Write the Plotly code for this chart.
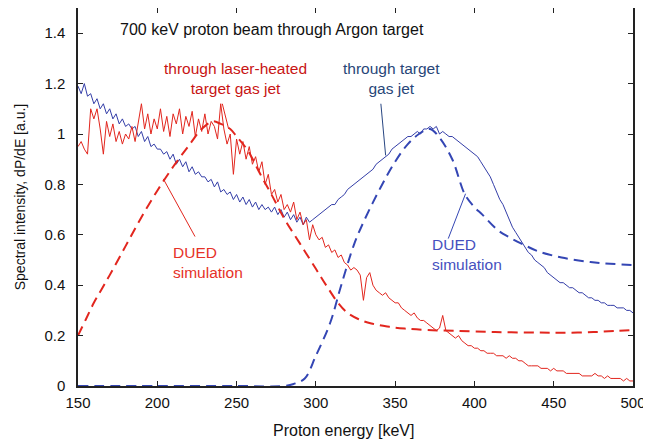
import plotly.graph_objects as go

# ---- data ----
energy_exp = list(range(150, 501, 2))

blue_exp = [
    1.19, 1.16, 1.20, 1.15, 1.16, 1.12, 1.14, 1.10, 1.12, 1.08, 1.10, 1.06, 1.08, 1.04, 1.06, 1.03,
    1.04, 1.02, 1.03, 0.99, 1.01, 0.97, 0.99, 0.95, 0.96, 0.94, 0.94, 0.92, 0.93, 0.90, 0.92, 0.88,
    0.90, 0.87, 0.89, 0.85, 0.87, 0.84, 0.85, 0.83, 0.83, 0.81, 0.82, 0.79, 0.81, 0.77, 0.78, 0.76,
    0.77, 0.74, 0.76, 0.73, 0.75, 0.72, 0.74, 0.71, 0.73, 0.70, 0.72, 0.70, 0.71, 0.69, 0.71, 0.68,
    0.70, 0.67, 0.69, 0.66, 0.68, 0.65, 0.67, 0.64, 0.67, 0.65, 0.66, 0.67, 0.68, 0.69, 0.70, 0.71,
    0.72, 0.72, 0.74, 0.75, 0.76, 0.78, 0.79, 0.80, 0.81, 0.82, 0.83, 0.84, 0.85, 0.86, 0.88, 0.89,
    0.90, 0.91, 0.92, 0.94, 0.95, 0.96, 0.97, 0.98, 0.99, 0.99, 1.00, 1.01, 1.00, 1.02, 1.02, 1.03,
    1.02, 1.03, 1.00, 1.01, 1.00, 0.99, 0.99, 0.98, 0.97, 0.96, 0.95, 0.94, 0.93, 0.92, 0.91, 0.89,
    0.87, 0.85, 0.83, 0.80, 0.77, 0.74, 0.72, 0.69, 0.66, 0.63, 0.61, 0.59, 0.57, 0.55, 0.53, 0.52,
    0.50, 0.49, 0.48, 0.47, 0.45, 0.44, 0.43, 0.42, 0.41, 0.41, 0.40, 0.39, 0.39, 0.38, 0.37, 0.37,
    0.36, 0.35, 0.35, 0.34, 0.34, 0.33, 0.33, 0.32, 0.32, 0.32, 0.31, 0.31, 0.31, 0.30, 0.30, 0.29,
]

red_exp = [
    0.95, 0.97, 0.94, 0.92, 1.10, 1.06, 1.10, 1.02, 0.92, 1.05, 0.99, 1.04, 0.97, 1.01, 0.96, 1.00,
    0.98, 1.03, 0.97, 1.04, 1.12, 1.02, 1.08, 1.00, 1.06, 1.02, 1.10, 1.01, 1.07, 0.99, 1.08, 1.04,
    1.10, 1.00, 1.07, 1.03, 1.09, 0.99, 1.06, 1.01, 1.08, 1.00, 1.05, 1.03, 0.98, 1.12, 1.02, 0.96,
    1.00, 0.84, 0.98, 0.92, 0.97, 0.90, 0.95, 0.88, 0.91, 0.85, 0.89, 0.80, 0.84, 0.76, 0.78, 0.73,
    0.76, 0.70, 0.72, 0.69, 0.73, 0.66, 0.69, 0.64, 0.66, 0.58, 0.64, 0.60, 0.58, 0.59, 0.55, 0.56,
    0.53, 0.54, 0.51, 0.52, 0.49, 0.48, 0.46, 0.47, 0.46, 0.44, 0.34, 0.43, 0.45, 0.40, 0.38, 0.37,
    0.36, 0.37, 0.35, 0.34, 0.33, 0.33, 0.31, 0.30, 0.29, 0.28, 0.29, 0.27, 0.26, 0.26, 0.25, 0.24,
    0.23, 0.22, 0.23, 0.28, 0.22, 0.21, 0.20, 0.19, 0.20, 0.18, 0.17, 0.16, 0.16, 0.15, 0.15, 0.14,
    0.14, 0.13, 0.13, 0.13, 0.12, 0.12, 0.12, 0.11, 0.12, 0.11, 0.11, 0.10, 0.10, 0.09, 0.08, 0.08,
    0.08, 0.08, 0.07, 0.07, 0.07, 0.06, 0.07, 0.06, 0.06, 0.06, 0.05, 0.05, 0.05, 0.05, 0.05, 0.04,
    0.04, 0.04, 0.04, 0.05, 0.04, 0.04, 0.03, 0.04, 0.03, 0.03, 0.03, 0.03, 0.02, 0.03, 0.02, 0.02,
]

red_sim_e = [150, 155, 160, 165, 170, 180, 190, 200, 210, 220, 228, 235, 240, 246, 250, 257, 265,
             272, 280, 290, 300, 307, 314, 320, 327, 335, 345, 356, 370, 388, 413, 440, 455, 475,
             490, 500]
red_sim_v = [0.20, 0.265, 0.33, 0.385, 0.44, 0.555, 0.67, 0.775, 0.87, 0.955, 1.02, 1.05, 1.04,
             1.02, 0.99, 0.935, 0.84, 0.76, 0.665, 0.565, 0.465, 0.395, 0.33, 0.29, 0.265, 0.248,
             0.236, 0.228, 0.222, 0.219, 0.214, 0.212, 0.211, 0.214, 0.219, 0.222]

blue_sim_e = [150, 200, 250, 280, 286, 293, 300, 309, 316, 324, 330, 341, 350, 358, 365, 372,
              378, 386, 394, 400, 405, 415, 422, 430, 440, 455, 476, 500]
blue_sim_v = [0.0, 0.0, 0.0, 0.0, 0.008, 0.03, 0.12, 0.25, 0.40, 0.56, 0.65, 0.79, 0.89, 0.96,
              1.0, 1.02, 0.985, 0.90, 0.76, 0.71, 0.68, 0.617, 0.59, 0.564, 0.535, 0.51, 0.49, 0.48]

x_ticks = [150, 200, 250, 300, 350, 400, 450, 500]
y_ticks = [0, 0.2, 0.4, 0.6, 0.8, 1.0, 1.2, 1.4]
y_tick_text = ["0", "0.2", "0.4", "0.6", "0.8", "1", "1.2", "1.4"]

RED = "rgb(226,38,30)"
BLUE = "rgb(52,62,168)"
BLUE_SIM = "rgb(52,70,180)"
FONT = "Liberation Sans, Arial, Helvetica, sans-serif"
NARROW = "Liberation Sans Narrow, Arial Narrow, Liberation Sans, sans-serif"

fig = go.Figure()
fig.add_trace(go.Scatter(x=energy_exp, y=blue_exp, mode="lines",
                         line=dict(color=BLUE, width=1), showlegend=False))
fig.add_trace(go.Scatter(x=energy_exp, y=red_exp, mode="lines",
                         line=dict(color=RED, width=1), showlegend=False))
fig.add_trace(go.Scatter(x=red_sim_e, y=red_sim_v, mode="lines", line_shape="spline",
                         line=dict(color=RED, width=2, dash="10px,6px"), showlegend=False))
fig.add_trace(go.Scatter(x=blue_sim_e, y=blue_sim_v, mode="lines", line_shape="spline",
                         line=dict(color=BLUE_SIM, width=2, dash="10px,6px"), showlegend=False))

# pointer lines
pointers = [
    (241, 1.12, 245, 1.02, RED),
    (341, 1.12, 344, 0.915, "rgb(40,70,130)"),
    (203.8, 0.822, 223.8, 0.593, RED),
    (394.4, 0.763, 383.5, 0.585, BLUE_SIM),
]
for x0, y0, x1, y1, c in pointers:
    fig.add_shape(type="line", x0=x0, y0=y0, x1=x1, y1=y1, xref="x", yref="y",
                  line=dict(color=c, width=1))

fig.add_annotation(x=175.2, y=1.415, text="700 keV proton beam through Argon target",
                   showarrow=False, xanchor="left", yanchor="middle",
                   font=dict(family=FONT, size=16, color="#111"))
fig.add_annotation(x=249.6, y=1.22, text="through laser-heated<br>target gas jet",
                   showarrow=False, xanchor="center", yanchor="middle", align="center",
                   font=dict(family=FONT, size=15.5, color="rgb(200,20,20)"))
fig.add_annotation(x=347.8, y=1.22, text="through target<br>gas jet",
                   showarrow=False, xanchor="center", yanchor="middle", align="center",
                   font=dict(family=FONT, size=15.5, color="rgb(40,70,120)"))
fig.add_annotation(x=208.4, y=0.492, text="DUED<br>simulation",
                   showarrow=False, xanchor="left", yanchor="middle", align="left",
                   font=dict(family=FONT, size=15.5, color="rgb(230,50,40)"))
fig.add_annotation(x=372, y=0.523, text="DUED<br>simulation",
                   showarrow=False, xanchor="left", yanchor="middle", align="left",
                   font=dict(family=FONT, size=15.5, color="rgb(70,80,190)"))
# x-axis title (placed slightly left of centre as in the reference)
fig.add_annotation(xref="paper", yref="paper", x=0.479, y=0, yshift=-44.5,
                   text="Proton energy [keV]", showarrow=False,
                   xanchor="center", yanchor="middle",
                   font=dict(family=FONT, size=16, color="#111"))

axis_common = dict(showgrid=False, zeroline=False, showline=True, linecolor="#222",
                   linewidth=1.5, mirror="ticks", ticks="inside", ticklen=5,
                   tickcolor="#222", tickwidth=1, automargin=False,
                   tickfont=dict(family=FONT, size=15, color="#111"))

# the page body has an 8px default margin, so the figure is sized to fit inside it
fig.update_layout(
    width=643, height=433, autosize=False,
    margin=dict(l=70, r=18, t=0, b=55),
    paper_bgcolor="white", plot_bgcolor="white",
    font=dict(family=FONT, size=14, color="#111"),
    xaxis=dict(range=[150, 500], tickvals=x_ticks, ticklabelstandoff=2,
               **axis_common),
    yaxis=dict(range=[0, 1.5], tickvals=y_ticks, ticktext=y_tick_text, ticklabelstandoff=8,
               title=dict(text="Spectral intensity, dP/dE [a.u.]",
                          font=dict(family=NARROW, size=14), standoff=15),
               **axis_common),
)

fig.write_html("out.html")
